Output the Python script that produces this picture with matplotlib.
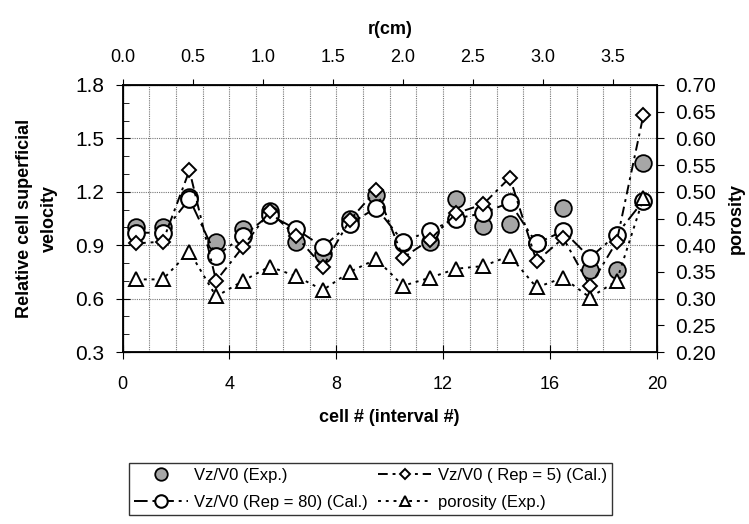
import numpy as np
import matplotlib.pyplot as plt
from matplotlib.ticker import MultipleLocator, FormatStrFormatter

plt.rcParams['font.family'] = ['Liberation Sans', 'DejaVu Sans']

# cell centres (interval #)
cell = np.arange(0.5, 20, 1.0)

# relative cell superficial velocity
vz_exp = [1.00, 1.00, 1.17, 0.92, 0.99, 1.09, 0.92, 0.85, 1.05, 1.18,
          0.91, 0.92, 1.16, 1.01, 1.02, 0.91, 1.11, 0.76, 0.76, 1.36]
vz_rep80 = [0.97, 0.97, 1.16, 0.84, 0.95, 1.07, 0.99, 0.89, 1.02, 1.11,
            0.92, 0.98, 1.05, 1.08, 1.14, 0.91, 0.98, 0.83, 0.96, 1.15]
vz_rep5 = [0.91, 0.92, 1.32, 0.70, 0.89, 1.09, 0.95, 0.78, 1.04, 1.21,
           0.83, 0.93, 1.08, 1.13, 1.28, 0.81, 0.94, 0.67, 0.92, 1.63]
# porosity (right axis)
porosity = [0.336, 0.336, 0.388, 0.304, 0.333, 0.360, 0.342, 0.316, 0.350, 0.374,
            0.324, 0.339, 0.356, 0.361, 0.380, 0.321, 0.339, 0.302, 0.333, 0.488]

cm_per_cell = 0.1907   # top axis r(cm)
r_ticks = [0.0, 0.5, 1.0, 1.5, 2.0, 2.5, 3.0, 3.5]

fig = plt.figure(figsize=(7.49, 5.24), dpi=100)
ax = fig.add_axes([0.1638, 0.3282, 0.713, 0.5096])

gray = '#a6a6a6'
l_exp, = ax.plot(cell, vz_exp, linestyle='none', marker='o', ms=12,
                 mfc=gray, mec='k', mew=1.3, zorder=3)
l_80, = ax.plot(cell, vz_rep80, color='k', lw=1.4, ls=(0, (7, 2.5, 1.5, 2.5)),
                marker='o', ms=12, mfc='white', mec='k', mew=1.5, zorder=4)
l_5, = ax.plot(cell, vz_rep5, color='k', lw=1.4, ls=(0, (5, 2.5, 1.5, 2.5)),
               marker='D', ms=7, mfc='white', mec='k', mew=1.4, zorder=5)

ax.set_xlim(0, 20)
ax.set_ylim(0.3, 1.8)
ax.xaxis.set_major_locator(MultipleLocator(4))
ax.xaxis.set_minor_locator(MultipleLocator(1))
ax.yaxis.set_major_locator(MultipleLocator(0.3))
ax.yaxis.set_minor_locator(MultipleLocator(0.1))
ax.yaxis.set_major_formatter(FormatStrFormatter('%.1f'))
ax.grid(which='both', axis='x', color='#777777', ls=(0, (1, 1)), lw=0.8)
ax.grid(which='major', axis='y', color='#777777', ls=(0, (1, 1)), lw=0.8)
ax.tick_params(axis='x', which='major', direction='inout', length=10, labelsize=13, pad=12)
ax.tick_params(axis='x', which='minor', length=0)
ax.tick_params(axis='y', which='major', direction='inout', length=10, labelsize=15, pad=8)
ax.tick_params(axis='y', which='minor', direction='in', length=4)
for s in ax.spines.values():
    s.set_linewidth(1.3)
ax.set_xlabel('cell # (interval #)', fontsize=13, fontweight='bold', labelpad=12)
ax.set_ylabel('Relative cell superficial\nvelocity', fontsize=13, fontweight='bold',
              labelpad=13, linespacing=1.6)

# porosity on right axis
ax3 = ax.twinx()
l_por, = ax3.plot(cell, porosity, color='k', lw=1.4, ls=(0, (1.5, 2.5)),
                  marker='^', ms=10, mfc='white', mec='k', mew=1.4, zorder=6)
ax3.set_ylim(0.2, 0.7)
ax3.yaxis.set_major_locator(MultipleLocator(0.05))
ax3.yaxis.set_major_formatter(FormatStrFormatter('%.2f'))
ax3.tick_params(axis='y', direction='out', length=5, labelsize=15, pad=8)
ax3.set_ylabel('porosity', fontsize=13, fontweight='bold', labelpad=9)

# top axis r(cm)
ax2 = ax.twiny()
ax2.set_xlim(0, 20 * cm_per_cell)
ax2.set_xticks(r_ticks)
ax2.xaxis.set_major_formatter(FormatStrFormatter('%.1f'))
ax2.tick_params(axis='x', direction='out', length=4.5, labelsize=13, pad=9)
ax2.set_xlabel('r(cm)', fontsize=13, fontweight='bold', labelpad=11)

handles = [l_exp, l_80, l_5, l_por]
labels = ['Vz/V0 (Exp.)', 'Vz/V0 (Rep = 80) (Cal.)',
          'Vz/V0 ( Rep = 5) (Cal.)', 'porosity (Exp.)']
leg = fig.legend(handles, labels, ncol=2, loc='lower center',
                 bbox_to_anchor=(0.495, 0.002), fontsize=12, frameon=True,
                 fancybox=False, edgecolor='k', handlelength=3.2,
                 columnspacing=0.6, handletextpad=0.4, borderpad=0.3,
                 labelspacing=0.7, markerscale=0.75)
leg.get_frame().set_linewidth(1.0)

fig.savefig('out.png', dpi=100)
